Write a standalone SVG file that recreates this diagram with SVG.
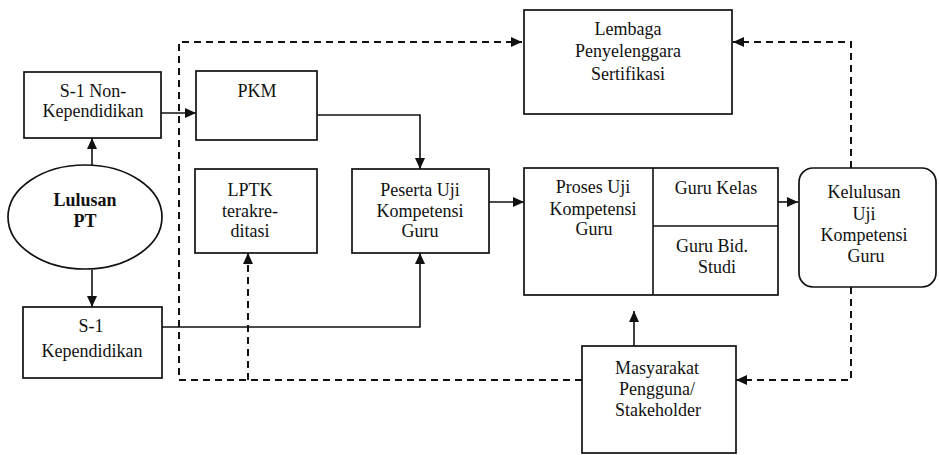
<svg xmlns="http://www.w3.org/2000/svg" width="939" height="455" viewBox="0 0 939 455">
<defs>
<marker id="ah" markerUnits="userSpaceOnUse" markerWidth="12" markerHeight="10" refX="11" refY="5" orient="auto">
<path d="M0,0 L11,5 L0,10 Z" fill="#111"/>
</marker>
<style>
.box{fill:#fff;stroke:#111;stroke-width:1.7}
.t{font-family:"Liberation Serif","Times New Roman",serif;font-size:18px;fill:#111;text-anchor:middle}
.b{font-weight:bold}
.s{fill:none;stroke:#111;stroke-width:1.6}
.d{fill:none;stroke:#111;stroke-width:2;stroke-dasharray:7,5}
</style>
</defs>
<rect width="939" height="455" fill="#fff"/>
<g id="connectors">
<path class="d" d="M582,380 H179 V42 H522" marker-end="url(#ah)"/>
<path class="d" d="M248,380 V253" marker-end="url(#ah)"/>
<path class="d" d="M851,168 V42 H733" marker-end="url(#ah)"/>
<path class="d" d="M851,287 V380 H736" marker-end="url(#ah)"/>
<path class="s" d="M92,166 V138" marker-end="url(#ah)"/>
<path class="s" d="M92,270 V307" marker-end="url(#ah)"/>
<path class="s" d="M161,113 H196" marker-end="url(#ah)"/>
<path class="s" d="M317,115 H420 V169" marker-end="url(#ah)"/>
<path class="s" d="M162,327 H420 V253" marker-end="url(#ah)"/>
<path class="s" d="M489,202 H524" marker-end="url(#ah)"/>
<path class="s" d="M778,202 H798" marker-end="url(#ah)"/>
<path class="s" d="M634,346 V311" marker-end="url(#ah)"/>
</g>
<g id="s1-non">
<rect class="box" x="24" y="72" width="137" height="66"/>
<text class="t" x="93" y="97">S-1 Non-</text>
<text class="t" x="93" y="117">Kependidikan</text>
</g>
<g id="lulusan-pt">
<ellipse class="box" cx="85" cy="217" rx="77" ry="52"/>
<text class="t b" x="85" y="206">Lulusan</text>
<text class="t b" x="85" y="227">PT</text>
</g>
<g id="s1-kep">
<rect class="box" x="23" y="307" width="139" height="71"/>
<text class="t" x="91" y="332">S-1</text>
<text class="t" x="92" y="357">Kependidikan</text>
</g>
<g id="pkm">
<rect class="box" x="196" y="71" width="121" height="69"/>
<text class="t" x="257" y="97">PKM</text>
</g>
<g id="lptk">
<rect class="box" x="195" y="169" width="122" height="84"/>
<text class="t" x="250" y="196">LPTK</text>
<text class="t" x="250" y="217">terakre-</text>
<text class="t" x="250" y="237">ditasi</text>
</g>
<g id="peserta">
<rect class="box" x="352" y="169" width="137" height="84"/>
<text class="t" x="420" y="196">Peserta Uji</text>
<text class="t" x="420" y="217">Kompetensi</text>
<text class="t" x="420" y="237">Guru</text>
</g>
<g id="lembaga">
<rect class="box" x="524" y="10" width="208" height="104"/>
<text class="t" x="628" y="35">Lembaga</text>
<text class="t" x="628" y="57">Penyelenggara</text>
<text class="t" x="628" y="80">Sertifikasi</text>
</g>
<g id="proses">
<rect class="box" x="524" y="168" width="254" height="127"/>
<path class="s" d="M653,168 V295 M653,226 H778"/>
<text class="t" x="593" y="193">Proses Uji</text>
<text class="t" x="593" y="215">Kompetensi</text>
<text class="t" x="594" y="235">Guru</text>
<text class="t" x="716" y="194">Guru Kelas</text>
<text class="t" x="712" y="252">Guru Bid.</text>
<text class="t" x="717" y="273">Studi</text>
</g>
<g id="kelulusan">
<rect class="box" x="799" y="168" width="137" height="119" rx="14"/>
<text class="t" x="864" y="198">Kelulusan</text>
<text class="t" x="864" y="220">Uji</text>
<text class="t" x="864" y="241">Kompetensi</text>
<text class="t" x="866" y="262">Guru</text>
</g>
<g id="masyarakat">
<rect class="box" x="582" y="346" width="154" height="107"/>
<text class="t" x="657" y="374">Masyarakat</text>
<text class="t" x="657" y="395">Pengguna/</text>
<text class="t" x="658" y="416">Stakeholder</text>
</g>
</svg>
